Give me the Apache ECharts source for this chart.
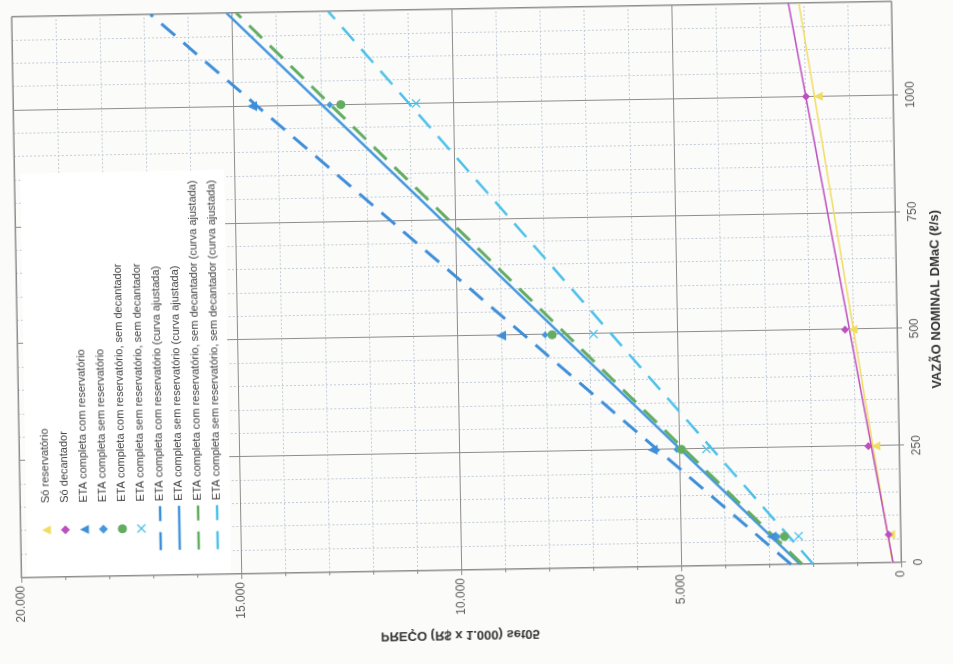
<!DOCTYPE html>
<html>
<head>
<meta charset="utf-8">
<script src="https://cdn.jsdelivr.net/npm/echarts/dist/echarts.min.js"></script>
<style>
  html, body { margin: 0; padding: 0; width: 953px; height: 664px; overflow: hidden; background: #fbfbfa; }
  /* The chart is laid out upright, then turned on the page (landscape sheet) */
  #chart { position: absolute; left: 116.7px; top: -159.7px; width: 700px; height: 980px;
           transform: rotate(-91deg); transform-origin: 50% 50%; }
</style>
</head>
<body>
<div id="chart"></div>
<script>
// ---- Data: flow (l/s) vs price (R$ x 1.000) ----
const vazaoPontos = [60, 250, 500, 1000];

const precoSoReservatorio      = [230, 530, 1000, 1700];
const precoSoDecantador        = [270, 700, 1180, 1980];
const precoComReservatorio     = [2930, 5600, 9000, 14570];
const precoSemReservatorio     = [2800, 5050, 8000, 12800];
const precoComResSemDecantador = [2640, 4950, 7840, 12550];
const precoSemResSemDecantador = [2320, 4380, 6900, 10840];

// Fitted lines, given by their end points along the flow axis
const vazaoCurva = [0, 1200];
const curvaComReservatorio     = [2500, 16840];
const curvaSemReservatorio     = [2300, 15110];
const curvaComResSemDecantador = [2250, 14890];
const curvaSemResSemDecantador = [2000, 12800];
const tendSoReservatorio       = [200, 2100];
const tendSoDecantador         = [180, 2340];

const nomesLegenda = [
  'Só reservatório',
  'Só decantador',
  'ETA completa com reservatório',
  'ETA completa sem reservatório',
  'ETA completa com reservatório, sem decantador',
  'ETA completa sem reservatório, sem decantador',
  'ETA completa com reservatório (curva ajustada)',
  'ETA completa sem reservatório (curva ajustada)',
  'ETA completa com reservatório, sem decantador (curva ajustada)',
  'ETA completa sem reservatório, sem decantador (curva ajustada)'
];

const tituloVazao = 'VAZÃO NOMINAL DMaC (ℓ/s)';
const tituloPreco = 'PREÇO (R$ x 1.000) set05';

// ---- Styling ----
const fonte = '"Liberation Sans", Arial, Helvetica, sans-serif';
const cor = {
  amarelo: '#f1dc62',
  roxo: '#bd4fbf',
  azul: '#3f8fd8',
  azulSolido: '#4598de',
  verde: '#63ad63',
  ciano: '#4cc1ea'
};
// marker shapes as paths so they keep their proportions in the legend keys
const simboloTriangulo = 'path://M5,0 L10,10 L0,10 Z';
const simboloLosango   = 'path://M5,0 L10,5 L5,10 L0,5 Z';
const simboloX = 'path://M0,1 L1,0 L5,4 L9,0 L10,1 L6,5 L10,9 L9,10 L5,6 L1,10 L0,9 L4,5 Z';
const tracejado = [18, 11];

const pares = (xs, ys) => xs.map((x, i) => [x, ys[i]]);
const milhar = v => String(v).replace(/\B(?=(\d{3})+(?!\d))/g, '.');

function pontos(nome, ys, simbolo, tamanho, c) {
  return {
    name: nome, type: 'scatter', data: pares(vazaoPontos, ys),
    symbol: simbolo, symbolSize: tamanho, symbolKeepAspect: true, z: 5,
    itemStyle: { color: c, opacity: 1 }
  };
}
function reta(nome, ys, c, largura, tipo) {
  return {
    name: nome, type: 'line', data: pares(vazaoCurva, ys),
    symbol: 'none', showSymbol: false, z: 3,
    lineStyle: { color: c, width: largura, type: tipo },
    itemStyle: { color: c }
  };
}

const chart = echarts.init(document.getElementById('chart'), null, { renderer: 'canvas' });

const corEixo = '#8d8d8d';
const corMenor = '#c3ccd6';
const textoEixo = { color: '#5a5a5a', fontSize: 12, fontFamily: fonte };

chart.setOption({
  animation: false,
  backgroundColor: 'transparent',
  grid: {
    left: 110, right: 29, top: 40, bottom: 60,
    show: true, borderColor: corEixo, borderWidth: 1,
    containLabel: false, outerBoundsMode: 'none'
  },
  xAxis: [
    {
      type: 'value', min: 0, max: 1200, interval: 250, z: 1,
      name: tituloVazao, nameLocation: 'middle', nameGap: 33,
      nameTextStyle: { fontWeight: 'bold', fontSize: 13, color: '#333', fontFamily: fonte, padding: [0, 36, 0, 0] },
      axisLine: { show: true, lineStyle: { color: corEixo } },
      axisTick: { show: true, length: 5, lineStyle: { color: corEixo } },
      axisLabel: { ...textoEixo, margin: 12, showMaxLabel: false, formatter: v => String(v) },
      splitLine: { show: true, lineStyle: { color: corEixo, width: 1 } }
    },
    {
      // fine grid every 50 l/s
      type: 'value', min: 0, max: 1200, interval: 50, z: 0,
      axisLine: { show: false }, axisTick: { show: false }, axisLabel: { show: false },
      splitLine: { show: true, lineStyle: { color: corMenor, width: 1, type: [2, 2] } }
    }
  ],
  yAxis: {
    type: 'value', min: 0, max: 20000, interval: 5000, z: 1,
    axisLine: { show: true, lineStyle: { color: corEixo } },
    axisTick: { show: true, length: 5, lineStyle: { color: corEixo } },
    minorTick: { show: true, splitNumber: 5, length: 3, lineStyle: { color: corEixo } },
    axisLabel: { ...textoEixo, margin: 8, formatter: v => milhar(v) },
    splitLine: { show: true, lineStyle: { color: corEixo, width: 1 } },
    minorSplitLine: { show: true, lineStyle: { color: corMenor, width: 1, type: [2, 2] } }
  },
  legend: {
    orient: 'vertical', left: 111, top: 46,
    padding: [14, 10, 7, 23],
    backgroundColor: '#ffffff',
    itemWidth: 44, itemHeight: 9, itemGap: 7,
    symbolKeepAspect: true,
    selectedMode: false,
    lineStyle: { width: 2.5 },
    textStyle: { fontSize: 11, color: '#404040', fontFamily: fonte, lineHeight: 12 },
    data: nomesLegenda.map((n, i) => i < 6 ? { name: n } : { name: n, itemStyle: { opacity: 0 } })
  },
  graphic: [
    {
      // price axis title, printed mirrored on the sheet
      type: 'text', x: 45.5, y: 478, rotation: -Math.PI / 2, scaleY: -1, z: 10,
      style: {
        text: tituloPreco, font: 'bold 13px ' + fonte, fill: '#333',
        align: 'center', verticalAlign: 'middle', textAlign: 'center', textVerticalAlign: 'middle'
      }
    }
  ],
  series: [
    reta('Tendência só reservatório', tendSoReservatorio, cor.amarelo, 1.5, 'solid'),
    reta('Tendência só decantador', tendSoDecantador, cor.roxo, 1.5, 'solid'),
    reta(nomesLegenda[6], curvaComReservatorio, cor.azul, 3, tracejado),
    reta(nomesLegenda[7], curvaSemReservatorio, cor.azulSolido, 2.5, 'solid'),
    reta(nomesLegenda[8], curvaComResSemDecantador, cor.verde, 3, tracejado),
    reta(nomesLegenda[9], curvaSemResSemDecantador, cor.ciano, 2.5, tracejado),
    pontos(nomesLegenda[0], precoSoReservatorio, simboloTriangulo, 9, cor.amarelo),
    pontos(nomesLegenda[1], precoSoDecantador, simboloLosango, 8, cor.roxo),
    pontos(nomesLegenda[2], precoComReservatorio, simboloTriangulo, 10, cor.azul),
    pontos(nomesLegenda[3], precoSemReservatorio, simboloLosango, 7, cor.azulSolido),
    pontos(nomesLegenda[4], precoComResSemDecantador, 'circle', 9, cor.verde),
    pontos(nomesLegenda[5], precoSemResSemDecantador, simboloX, 9, cor.ciano)
  ]
});
</script>
</body>
</html>
